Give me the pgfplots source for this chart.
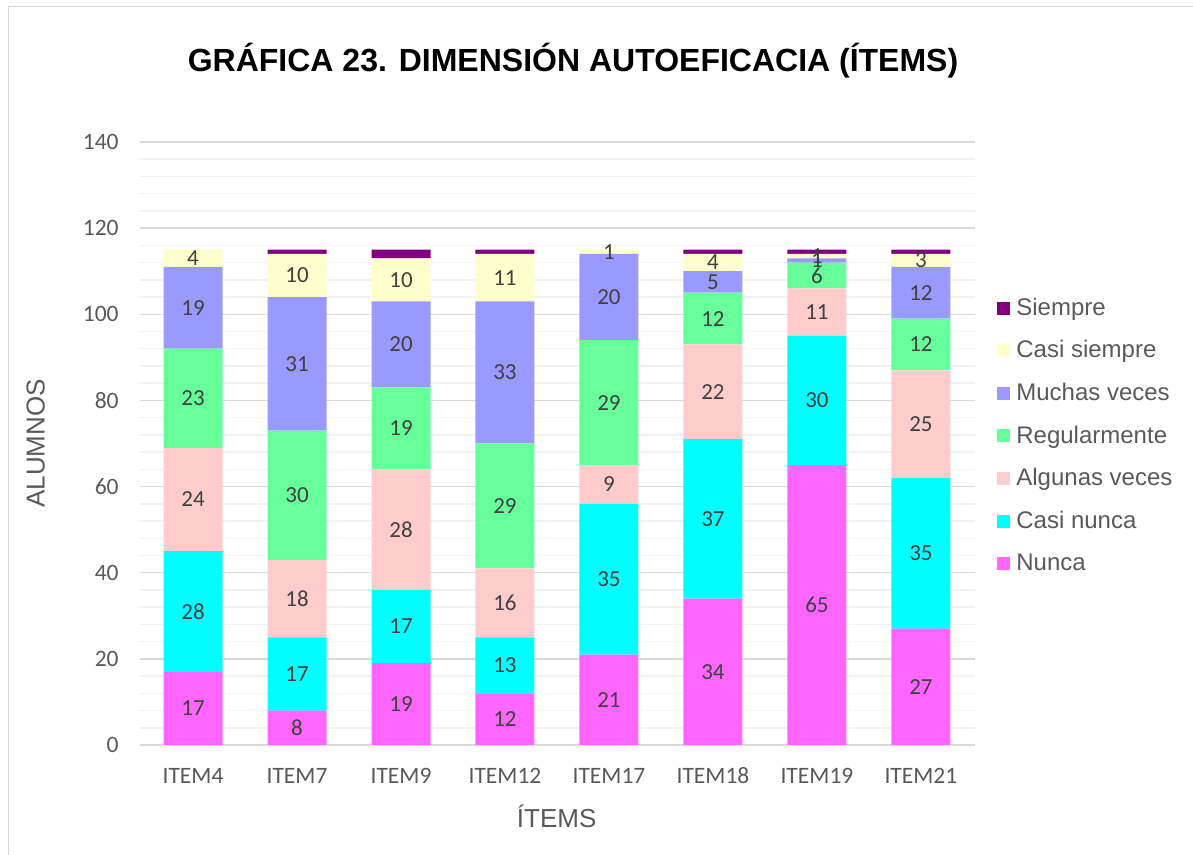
\documentclass[border=0pt]{standalone}
\usepackage{fontspec}
\setmainfont{Liberation Sans}
\newfontfamily\carlito{Carlito}
\usepackage{pgfplots}
\usepackage{pgfplotstable}
\pgfplotsset{compat=1.18}
\definecolor{cSiempre}{HTML}{800080}
\definecolor{cCasiS}{HTML}{FFFFCC}
\definecolor{cMuchas}{HTML}{9999FF}
\definecolor{cReg}{HTML}{66FF99}
\definecolor{cAlg}{HTML}{FFCCCC}
\definecolor{cCasiN}{HTML}{00FFFF}
\definecolor{cNunca}{HTML}{FF66FF}
\definecolor{gridmaj}{HTML}{D9D9D9}
\definecolor{gridmin}{HTML}{F2F2F2}
\definecolor{txt}{HTML}{595959}
\definecolor{lbltxt}{HTML}{404040}
\pgfplotstableread{
x item nunca casin alg reg muchas casis siempre
0 ITEM4 17 28 24 23 19 4 0
1 ITEM7 8 17 18 30 31 10 1
2 ITEM9 19 17 28 19 20 10 2
3 ITEM12 12 13 16 29 33 11 1
4 ITEM17 21 35 9 29 20 1 0
5 ITEM18 34 37 22 12 5 4 1
6 ITEM19 65 30 11 6 1 1 1
7 ITEM21 27 35 25 12 12 3 1
}\datatable
\pgfplotsset{
  lbl/.style={nodes near coords, point meta=\thisrow{#1},
    every node near coord/.append style={anchor=center,
      font=\carlito\fontsize{11.5}{13}\selectfont, text=lbltxt}}
}
\begin{document}
\begin{tikzpicture}
\useasboundingbox (-70pt,-55pt) rectangle (526.5pt,372.5pt);
\draw[gridmaj, line width=0.8pt] (-65.75pt,-60pt) -- (-65.75pt,369.25pt) -- (530pt,369.25pt);
\begin{axis}[
  at={(0,0)}, anchor=south west,
  scale only axis, width=417.5pt, height=301.5pt,
  ybar stacked, bar width=29.5pt,
  xmin=-0.51, xmax=7.52, ymin=0, ymax=140,
  ytick={0,20,...,140}, minor y tick num=4,
  xtick=data, xticklabels from table={\datatable}{item},
  ymajorgrids, yminorgrids,
  major grid style={gridmaj, line width=0.75pt},
  minor grid style={gridmin, line width=0.75pt},
  axis line style={draw=none},
  major tick length=0pt, minor tick length=0pt,
  /pgf/number format/assume math mode=true,
  tick label style={font=\carlito\fontsize{11.75}{14}\selectfont, text=txt},
  xticklabel style={anchor=base, yshift=-19.5pt, inner sep=0pt},
  yticklabel style={anchor=east, xshift=-10.5pt, inner sep=0pt},
  title={GRÁFICA 23. DIMENSIÓN AUTOEFICACIA (ÍTEMS)},
  title style={at={(axis description cs:0.5186,1.0962)}, anchor=base,
    font=\bfseries\fontsize{16}{19}\selectfont, text=black},
  xlabel={ÍTEMS},
  xlabel style={at={(axis description cs:0.499,-0.136)}, anchor=base,
    font=\fontsize{13}{15}\selectfont, text=txt},
  ylabel={ALUMNOS},
  ylabel style={at={(axis description cs:-0.125,0.5)}, anchor=center,
    font=\fontsize{13}{15}\selectfont, text=txt},
  reverse legend, legend cell align=left,
  legend style={at={(rel axis cs:1.0263,0.7469)}, anchor=north west,
    draw=none, fill=none, inner sep=0pt, row sep=8.1pt,
    nodes={inner sep=1.5pt},
    font=\fontsize{12}{14}\selectfont, text=txt},
  legend image code/.code={\fill[#1] (0pt,-3.25pt) rectangle (6.5pt,3.25pt);},
]
\addplot[fill=cNunca, draw=none, lbl=nunca] table[x=x, y=nunca] {\datatable};
\addlegendentry{\hspace{1.5pt}\vphantom{Sp}Nunca}
\addplot[fill=cCasiN, draw=none, lbl=casin] table[x=x, y=casin] {\datatable};
\addlegendentry{\hspace{1.5pt}\vphantom{Sp}Casi nunca}
\addplot[fill=cAlg, draw=none, lbl=alg] table[x=x, y=alg] {\datatable};
\addlegendentry{\hspace{1.5pt}\vphantom{Sp}Algunas veces}
\addplot[fill=cReg, draw=none, lbl=reg] table[x=x, y=reg] {\datatable};
\addlegendentry{\hspace{1.5pt}\vphantom{Sp}Regularmente}
\addplot[fill=cMuchas, draw=none, lbl=muchas] table[x=x, y=muchas] {\datatable};
\addlegendentry{\hspace{1.5pt}\vphantom{Sp}Muchas veces}
\addplot[fill=cCasiS, draw=none, lbl=casis] table[x=x, y=casis] {\datatable};
\addlegendentry{\hspace{1.5pt}\vphantom{Sp}Casi siempre}
\addplot[fill=cSiempre, draw=none] table[x=x, y=siempre] {\datatable};
\addlegendentry{\hspace{1.5pt}\vphantom{Sp}Siempre}
\end{axis}
\end{tikzpicture}
\end{document}
